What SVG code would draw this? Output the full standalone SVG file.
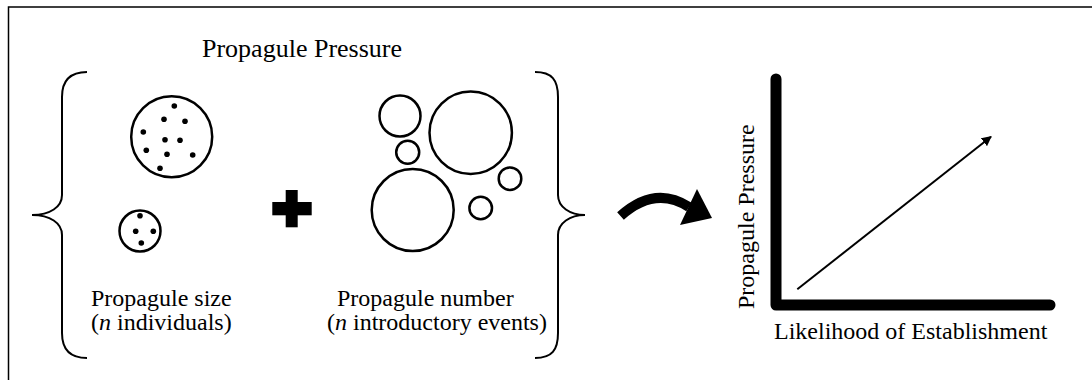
<svg xmlns="http://www.w3.org/2000/svg" width="1092" height="380" viewBox="0 0 1092 380">
  <defs>
    <style>
      .t { font-family: 'Liberation Serif', 'DejaVu Serif', serif; font-size: 24px; fill: #000; }
      .title { font-size: 26px; }
      .brace { fill: none; stroke: #000; stroke-width: 2; }
      .ring { fill: none; stroke: #000; stroke-width: 2.5; }
      .dot { fill: #000; }
    </style>
    <marker id="ah" viewBox="0 0 10 10" refX="9" refY="5" markerWidth="5" markerHeight="5" orient="auto" markerUnits="strokeWidth">
      <path d="M0,0 L10,5 L0,10 Z" fill="#000"/>
    </marker>
  </defs>
  <rect width="1092" height="380" fill="#fff"/>
  <rect x="8.5" y="7" width="1200" height="500" fill="none" stroke="#000" stroke-width="1.5"/>

  <g id="title">
    <text class="t title" x="202" y="57">Propagule Pressure</text>
  </g>

  <g id="brace-left">
    <path class="brace" d="M87,72 C70,72 62,80 62,97 L62,195 C62,207 50,215 32,215 C50,215 62,223 62,235 L62,333 C62,350 70,358 87,358"/>
  </g>
  <g id="brace-right">
    <path class="brace" d="M535,72 C552,72 558,80 558,97 L558,195 C558,207 570,215 585,215 C570,215 558,223 558,235 L558,333 C558,350 552,358 535,358"/>
  </g>

  <g id="propagule-size">
    <circle class="ring" cx="171.7" cy="136.7" r="40.5"/>
    <circle class="dot" cx="174.3" cy="106" r="2.8"/>
    <circle class="dot" cx="164" cy="119.3" r="2.8"/>
    <circle class="dot" cx="185" cy="121.3" r="2.8"/>
    <circle class="dot" cx="143.3" cy="132" r="2.8"/>
    <circle class="dot" cx="165" cy="139.7" r="2.8"/>
    <circle class="dot" cx="180" cy="140.3" r="2.8"/>
    <circle class="dot" cx="146.3" cy="150.3" r="2.8"/>
    <circle class="dot" cx="167" cy="154.3" r="2.8"/>
    <circle class="dot" cx="192.7" cy="155" r="2.8"/>
    <circle class="dot" cx="160" cy="168.3" r="2.8"/>
    <circle class="ring" cx="140" cy="231" r="20.5"/>
    <circle class="dot" cx="140" cy="215.7" r="2.8"/>
    <circle class="dot" cx="135.7" cy="231.3" r="2.8"/>
    <circle class="dot" cx="153.3" cy="231.3" r="2.8"/>
    <circle class="dot" cx="141.3" cy="243" r="2.8"/>
    <text class="t" x="91" y="306">Propagule size</text>
    <text class="t" x="91" y="330">(<tspan font-style="italic">n</tspan> individuals)</text>
  </g>

  <g id="plus">
    <rect x="285.7" y="190" width="12" height="37.3" fill="#000"/>
    <rect x="272.3" y="202" width="39.4" height="13.3" fill="#000"/>
  </g>

  <g id="propagule-number">
    <circle class="ring" cx="400" cy="116" r="20.5"/>
    <circle class="ring" cx="470.7" cy="132.7" r="41.2"/>
    <circle class="ring" cx="407.7" cy="152.3" r="11.5"/>
    <circle class="ring" cx="412.7" cy="210" r="41"/>
    <circle class="ring" cx="510" cy="178.7" r="11.3"/>
    <circle class="ring" cx="480.7" cy="208" r="11.3"/>
    <text class="t" x="337" y="306">Propagule number</text>
    <text class="t" x="327" y="330">(<tspan font-style="italic">n</tspan> introductory events)</text>
  </g>

  <g id="connectors">
    <path d="M620.5,216 Q655,185 689,207" fill="none" stroke="#000" stroke-width="10"/>
    <polygon points="697,189 712,218 680,225" fill="#000"/>
  </g>

  <g id="graph">
    <path d="M776,79 L776,305 L1050,305" fill="none" stroke="#000" stroke-width="11" stroke-linecap="round" stroke-linejoin="round"/>
    <line x1="797.3" y1="289.3" x2="991" y2="136.7" stroke="#000" stroke-width="2" marker-end="url(#ah)"/>
    <text class="t" transform="translate(754,216.7) rotate(-90)" text-anchor="middle">Propagule Pressure</text>
    <text class="t" x="774" y="339">Likelihood of Establishment</text>
  </g>
</svg>
